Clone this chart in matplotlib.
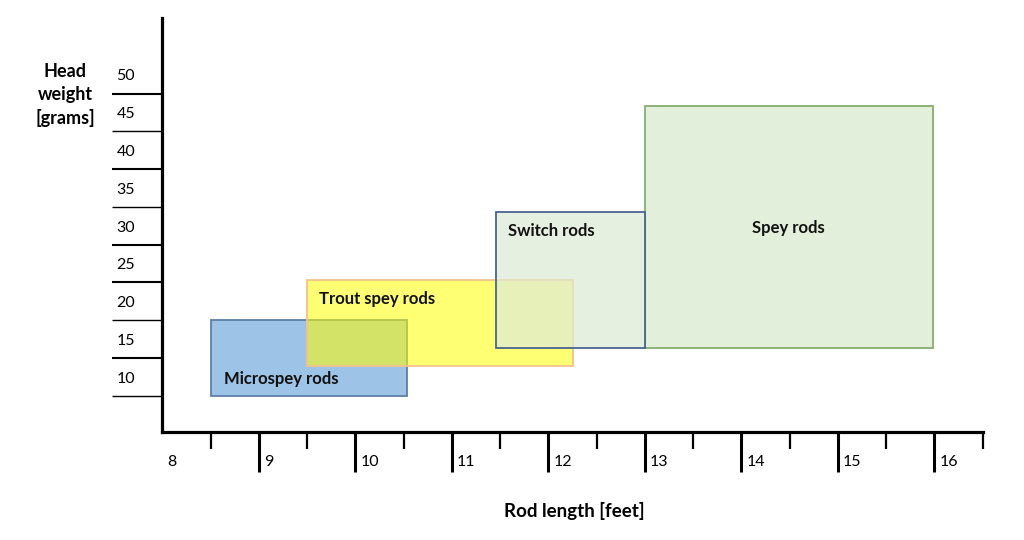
import matplotlib.pyplot as plt
from matplotlib.patches import Rectangle
from matplotlib.transforms import blended_transform_factory

plt.rcParams['font.family'] = ['Lato', 'DejaVu Sans']

# rod classes: length range [feet] and head weight range [grams]
names = ['Microspey rods', 'Trout spey rods', 'Spey rods', 'Switch rods']
len_lo = [8.5, 9.5, 13.0, 11.46]
len_hi = [10.53, 12.25, 15.98, 13.0]
wt_lo = [10.0, 14.0, 16.3, 16.35]
wt_hi = [20.0, 25.3, 48.4, 34.3]

x_major = [9, 10, 11, 12, 13, 14, 15, 16]
x_minor = [8.5, 9.5, 10.5, 11.5, 12.5, 13.5, 14.5, 15.5, 16.5]
x_labels = [8, 9, 10, 11, 12, 13, 14, 15, 16]
y_ticks = [10, 15, 20, 25, 30, 35, 40, 45, 50]

# styling
faces = ['#9DC3E6', '#FFFF00', '#E2EFDA', '#DDEBD4']
alphas = [1.0, 0.55, 1.0, 0.72]
edges = ['#5B7FA6', '#F2C28C', '#86AD6E', '#4A6491']
label_pos = [(8.64, 12.2, 'left'), (9.62, 22.8, 'left'), (14.49, 32.2, 'center'), (11.58, 31.8, 'left')]

fig = plt.figure(figsize=(10.24, 5.4), dpi=100)
ax = fig.add_axes([0.1585, 0.2, 0.8012, 0.7667])
ax.set_xlim(8, 16.5)
ax.set_ylim(5.2, 60)

for s in ['top', 'right']:
    ax.spines[s].set_visible(False)
for s in ['left', 'bottom']:
    ax.spines[s].set_linewidth(2.3)
    ax.spines[s].set_color('black')

for i in range(len(names)):
    w = len_hi[i] - len_lo[i]
    h = wt_hi[i] - wt_lo[i]
    ax.add_patch(Rectangle((len_lo[i], wt_lo[i]), w, h, facecolor=faces[i],
                           alpha=alphas[i], edgecolor='none', zorder=2 + i))
    ax.add_patch(Rectangle((len_lo[i], wt_lo[i]), w, h, facecolor='none',
                           edgecolor=edges[i], linewidth=1.3, zorder=2 + i))
    lx, ly, ha = label_pos[i]
    ax.text(lx, ly, names[i], fontsize=12, fontweight='bold', ha=ha, va='center',
            color='#111111', zorder=10)

# x ticks
ax.set_xticks(x_major)
ax.set_xticks(x_minor, minor=True)
ax.tick_params(axis='x', which='major', direction='out', length=29, width=2.2,
               labelbottom=False, color='black')
ax.tick_params(axis='x', which='minor', direction='out', length=12, width=1.6,
               labelbottom=False, color='black')
xt = blended_transform_factory(ax.transData, ax.transAxes)
for v in x_labels:
    ax.annotate(str(v), xy=(v, 0), xycoords=xt, xytext=(3.6, -21.4),
                textcoords='offset points', ha='left', va='center', fontsize=11.5)

# y ticks as long lines with labels in between
ax.set_yticks(y_ticks)
ax.tick_params(axis='y', which='major', direction='out', length=36, width=1.5,
               labelleft=False, color='black')
thin = [45, 35, 20, 10]
for t, v in zip(ax.yaxis.get_major_ticks(), y_ticks):
    if v in thin:
        t.tick1line.set_markeredgewidth(1.0)
yt = blended_transform_factory(ax.transAxes, ax.transData)
for v in y_ticks:
    ax.annotate(str(v), xy=(0, v), xycoords=yt, xytext=(-33, 12.3),
                textcoords='offset points', ha='left', va='center', fontsize=11.5)

fig.text(0.0635, 0.824, 'Head\nweight\n[grams]', ha='center', va='center',
         fontsize=13, fontweight='bold', linespacing=1.4)
fig.text(0.5605, 0.0537, 'Rod length [feet]', ha='center', va='center',
         fontsize=13.5, fontweight='bold')

fig.savefig('out.png', dpi=100)
